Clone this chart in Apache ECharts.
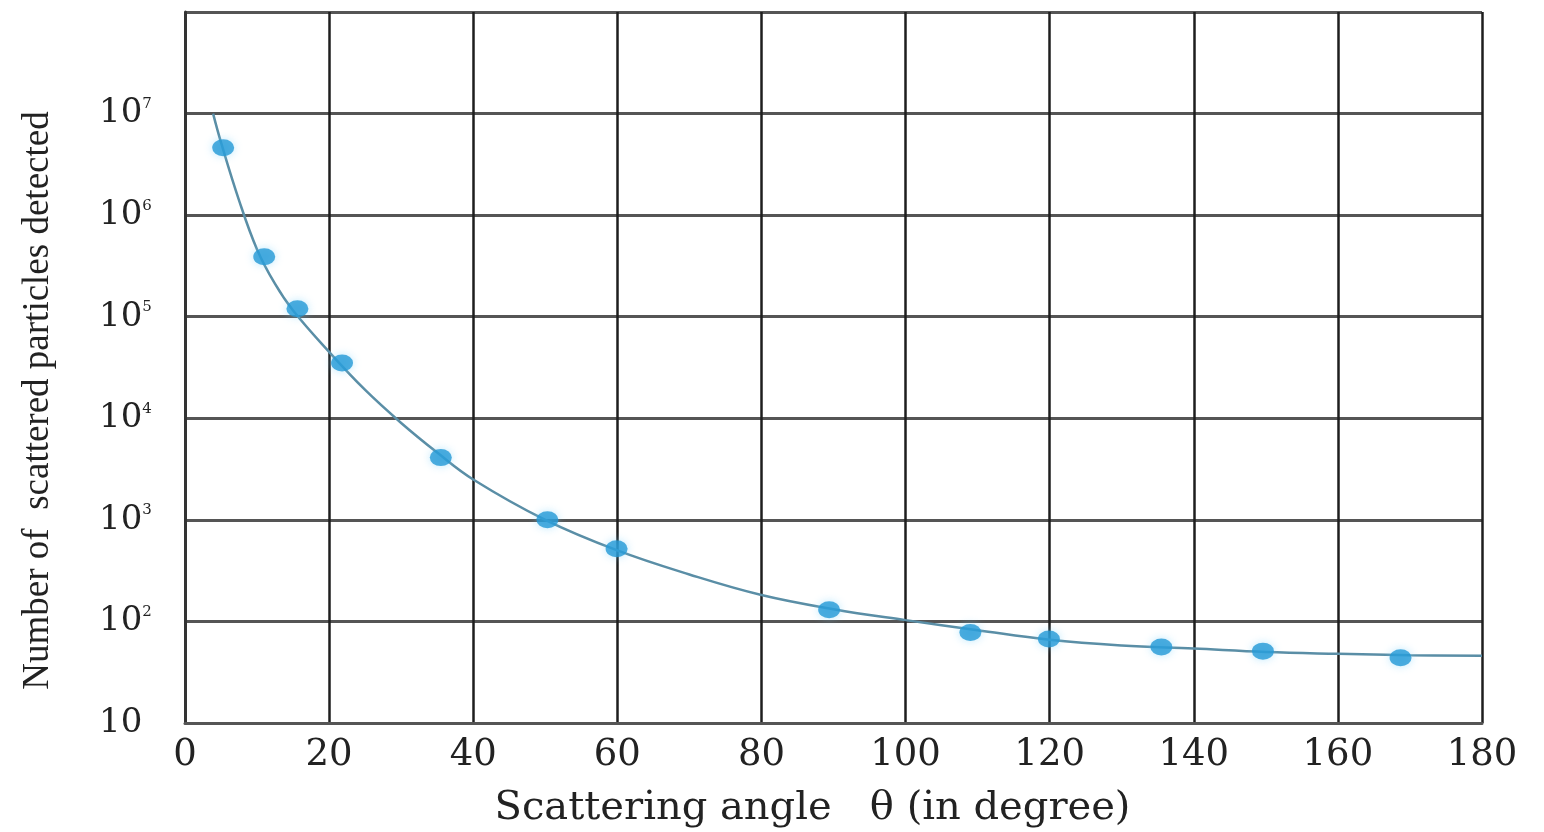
<!DOCTYPE html>
<html>
<head>
<meta charset="utf-8">
<script src="https://cdn.jsdelivr.net/npm/echarts@6/dist/echarts.min.js"></script>
<style>
  html, body { margin: 0; padding: 0; background: #fff; }
  #chart { width: 1544px; height: 832px; }
</style>
</head>
<body>
<div id="chart"></div>
<script>
// measured points (angle in degree, number detected)
var angles = [5.3, 11, 15.6, 21.8, 35.5, 50.3, 59.9, 89.4, 109, 119.9, 135.5, 149.6, 168.7];
var counts = [4.6e6, 3.9e5, 1.2e5, 3.5e4, 4.1e3, 1.0e3, 520, 130, 78, 67, 56, 51, 44];

// fitted curve
var curveAngles = [3.9, 5, 7.5, 10, 12.5, 15, 20, 25, 30, 35, 40, 50, 60, 70, 80, 90, 100, 110, 120, 130, 140, 150, 160, 170, 180];
var curveCounts = [1.0e7, 5.2e6, 1.4e6, 4.6e5, 2.1e5, 1.15e5, 4.5e4, 1.9e4, 9.0e3, 4.6e3, 2.5e3, 1.0e3, 500, 290, 182, 132, 103, 82, 66, 58, 54, 50, 48, 46.5, 46];

var xTicks = [0, 20, 40, 60, 80, 100, 120, 140, 160, 180];
var yExponents = [1, 2, 3, 4, 5, 6, 7];

var pts = angles.map(function (a, i) { return [a, counts[i]]; });
var curve = curveAngles.map(function (a, i) { return [a, curveCounts[i]]; });

var myChart = echarts.init(document.getElementById('chart'));
var option = {
    animation: false,
    backgroundColor: '#fff',
    grid: { left: 185, right: 62, top: 12, bottom: 109, outerBoundsMode: 'none' },
    xAxis: {
        type: 'value',
        min: 0,
        max: 180,
        interval: 20,
        name: 'Scattering angle   \u03b8 (in degree)',
        nameLocation: 'middle',
        nameGap: 66,
        nameTextStyle: { fontFamily: 'DejaVu Serif', fontSize: 40, color: '#222', padding: [0, 42, 0, 0] },
        axisLine: { show: true, lineStyle: { color: '#555', width: 3 } },
        axisTick: { show: false },
        axisLabel: {
            margin: 14,
            fontFamily: 'DejaVu Serif',
            fontSize: 37,
            color: '#222',
            formatter: function (v) { return xTicks.indexOf(v) >= 0 ? String(v) : ''; }
        },
        splitLine: { show: true, lineStyle: { color: '#1e1e1e', width: 2.5 } }
    },
    yAxis: {
        type: 'log',
        logBase: 10,
        min: 10,
        max: 1e8,
        name: 'Number of  scattered particles detected',
        nameLocation: 'middle',
        nameGap: 128,
        nameTextStyle: { fontFamily: 'Liberation Serif', fontSize: 37, color: '#222', padding: [0, 66, 0, 0] },
        axisLine: { show: true, lineStyle: { color: '#333', width: 3 } },
        axisTick: { show: false },
        axisLabel: {
            margin: 86,
            align: 'left',
            fontFamily: 'DejaVu Serif',
            fontSize: 34,
            color: '#222',
            formatter: function (v) {
                var e = Math.round(Math.log(v) / Math.LN10);
                if (yExponents.indexOf(e) < 0) return '';
                if (e === 1) return '10';
                return '10{sup|' + e + '}';
            },
            rich: {
                sup: { fontFamily: 'DejaVu Serif', fontSize: 15, color: '#222', verticalAlign: 'top', padding: [0, 0, 16, 0] }
            }
        },
        splitLine: { show: true, lineStyle: { color: '#555', width: 3 } }
    },
    series: [
        {
            name: 'curve',
            type: 'line',
            data: curve,
            smooth: 0.4,
            showSymbol: false,
            lineStyle: { color: '#5a8ea6', width: 2.5 },
            z: 3
        },
        {
            name: 'measured',
            type: 'scatter',
            data: pts,
            symbol: 'circle',
            symbolSize: [22, 17],
            itemStyle: { color: '#2399d6', shadowBlur: 8, shadowColor: 'rgba(120,210,250,0.6)' },
            z: 4
        }
    ]
};
myChart.setOption(option);
</script>
</body>
</html>
